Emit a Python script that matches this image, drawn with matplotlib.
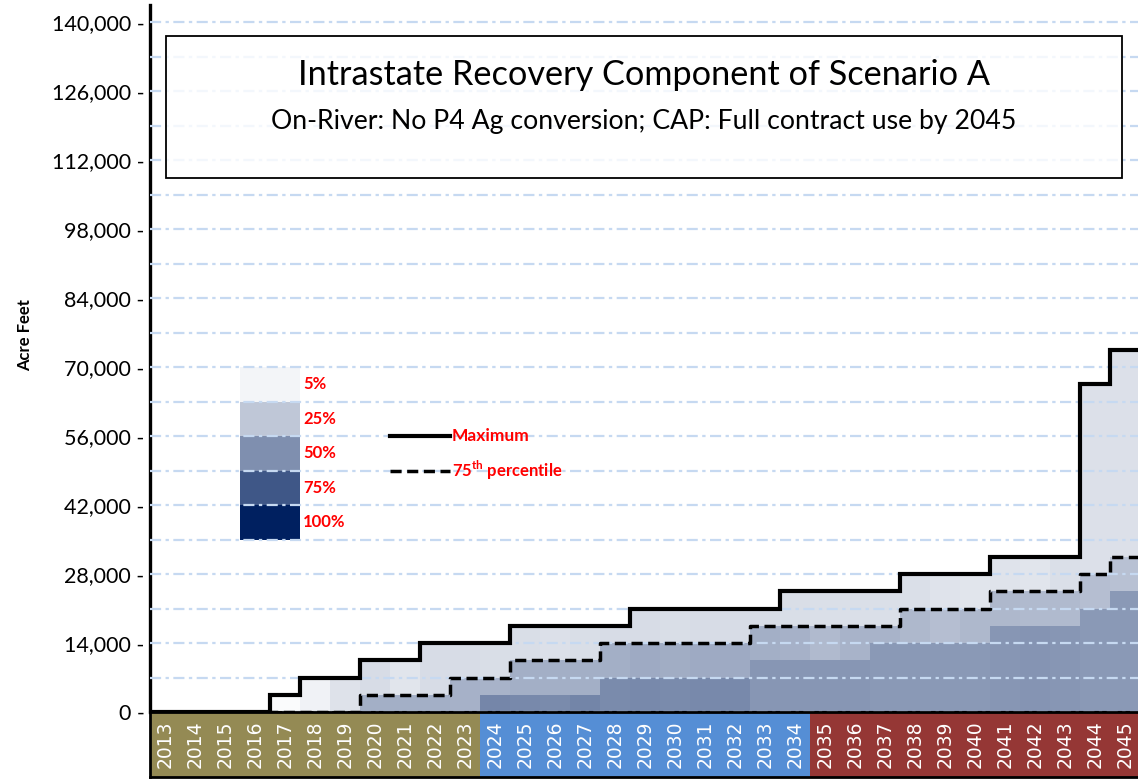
import matplotlib
matplotlib.use("Agg")
import matplotlib.pyplot as plt
import matplotlib.patches as mpatches
from matplotlib.colors import LinearSegmentedColormap
import numpy as np

plt.rcParams['font.family'] = ['Lato', 'DejaVu Sans']
plt.rcParams['mathtext.fontset'] = 'custom'
plt.rcParams['mathtext.bf'] = 'Lato:bold'
plt.rcParams['mathtext.rm'] = 'Lato'

# years shown along the bottom band
years = list(range(2013, 2046))

# step lines (acre feet)
max_af = [0, 0, 0, 0, 3500, 7000, 7000, 10500, 10500, 14000, 14000, 14000,
          17500, 17500, 17500, 17500, 21000, 21000, 21000, 21000, 21000,
          24500, 24500, 24500, 24500, 28000, 28000, 28000, 31500, 31500, 31500,
          66500, 73500]
p75_af = [0, 0, 0, 0, 0, 0, 0, 3500, 3500, 3500, 7000, 7000,
          10500, 10500, 10500, 14000, 14000, 14000, 14000, 14000,
          17500, 17500, 17500, 17500, 17500, 21000, 21000, 21000,
          24500, 24500, 24500, 28000, 31500]
# top of the darkest (lowest) tier
low_af = [0, 0, 0, 0, 0, 0, 0, 0, 0, 0, 0, 3500, 3500, 3500, 3500,
          7000, 7000, 7000, 7000, 7000, 10500, 10500, 10500, 10500,
          14000, 14000, 14000, 14000, 17500, 17500, 17500, 21000, 24500]

# shading (share of traces) for each tier
shade_low = [0, 0, 0, 0, 0, 0, 0, 0, 0, 0, 0, 0.54, 0.53, 0.52, 0.55,
             0.52, 0.53, 0.52, 0.53, 0.53, 0.47, 0.47, 0.47, 0.47,
             0.46, 0.46, 0.46, 0.46, 0.47, 0.48, 0.47, 0.46, 0.46]
shade_mid = [0, 0, 0, 0, 0, 0, 0, 0.36, 0.36, 0.36, 0.35, 0.34,
             0.36, 0.36, 0.36, 0.36, 0.38, 0.37, 0.38, 0.38,
             0.36, 0.35, 0.31, 0.34, 0.34, 0.32, 0.29, 0.32,
             0.32, 0.31, 0.31, 0.29, 0.28]
shade_top = [0, 0, 0, 0, 0.02, 0.06, 0.13, 0.16, 0.12, 0.16, 0.16, 0.15,
             0.15, 0.14, 0.15, 0.16, 0.16, 0.15, 0.16, 0.16, 0.16,
             0.15, 0.145, 0.145, 0.145, 0.145, 0.125, 0.12, 0.125, 0.12,
             0.145, 0.14, 0.14]

legend_levels = [1.0, 0.75, 0.5, 0.25, 0.05]
legend_labels = ['100%', '75%', '50%', '25%', '5%']

periods = [(2013, 2023, '#948a54'), (2024, 2034, '#558ed5'), (2035, 2045, '#953735')]

cmap = LinearSegmentedColormap.from_list('wb', ['#ffffff', '#002060'])

W, H = 1138, 781
fig = plt.figure(figsize=(W / 100, H / 100), dpi=100)

ax = fig.add_axes([150 / W, (H - 712) / H, 990 / W, (712 - 5) / H])
n = len(years)
x = np.arange(n)

low = np.array(low_af)
p75 = np.array(p75_af)
mx = np.array(max_af)

ax.bar(x, low, bottom=0, width=1, align='edge',
       color=cmap(np.array(shade_low)), linewidth=0, zorder=1)
ax.bar(x, p75 - low, bottom=low, width=1, align='edge',
       color=cmap(np.array(shade_mid)), linewidth=0, zorder=1)
ax.bar(x, mx - np.maximum(p75, low), bottom=np.maximum(p75, low), width=1, align='edge',
       color=cmap(np.array(shade_top)), linewidth=0, zorder=1)

# legend blocks drawn inside the plot
for k, (lev, lab) in enumerate(zip(legend_levels, legend_labels)):
    ax.bar(3, 7000, bottom=35000 + 7000 * k, width=2, align='edge',
           color=cmap(lev), linewidth=0, zorder=1)
    ax.text(5.1, 35000 + 7000 * k + 3500, lab, color='red', fontweight='bold',
            fontsize=12, va='center', ha='left', zorder=6)

edges = np.arange(n + 1)
ax.step(edges, list(max_af) + [max_af[-1]], where='post', color='black', lw=3.0, zorder=4,
        solid_joinstyle='miter')
ax.step(edges, list(p75_af) + [p75_af[-1]], where='post', color='black', lw=2.5,
        dashes=(3.2, 1.6), zorder=4)

ax.plot([8, 10], [56000, 56000], color='black', lw=3.0, zorder=4)
ax.plot([8, 10], [49000, 49000], color='black', lw=2.5, dashes=(3.2, 1.6), zorder=4)
ax.text(10.07, 56000, 'Maximum', color='red', fontweight='bold', fontsize=12.5,
        va='center', ha='left')
ax.text(10.07, 49000, r'75$^{\mathbf{th}}$ percentile', color='red', fontweight='bold',
        fontsize=12, va='center', ha='left')

ax.set_xlim(0, n)
ax.set_ylim(0, 143500)
major = np.arange(0, 140001, 14000)
ax.set_yticks(major)
ax.set_yticklabels([f'{v:,} -' for v in major], fontsize=15.5)
ax.set_yticks(np.arange(0, 140001, 7000), minor=True)
ax.tick_params(axis='y', which='both', length=0, pad=4)
ax.set_xticks([])
ax.set_axisbelow(False)
ax.grid(True, which='both', axis='y', color='#c6d9f1', lw=1.6,
        linestyle=(0, (5, 2, 1.5, 2)))
for s in ['top', 'right']:
    ax.spines[s].set_visible(False)
ax.spines['left'].set_linewidth(2.4)
ax.spines['bottom'].set_linewidth(1.5)

fig.text(25 / W, 1 - 335 / H, 'Acre Feet', rotation=90, fontweight='bold', fontsize=12,
         va='center', ha='center')

# title box
box = mpatches.Rectangle((166 / W, 1 - 178 / H), (1122 - 166) / W, (178 - 36) / H,
                         transform=fig.transFigure, facecolor=(1, 1, 1, 0.8),
                         edgecolor='black', lw=1.3, zorder=5)
ax.add_patch(box)
box.set_clip_on(False)
fig.text(644 / W, 1 - 75 / H, 'Intrastate Recovery Component of Scenario A',
         fontsize=24.7, ha='center', va='center')
fig.text(644 / W, 1 - 122 / H, 'On-River: No P4 Ag conversion; CAP: Full contract use by 2045',
         fontsize=19.2, ha='center', va='center')

# year band
bx = fig.add_axes([150 / W, (H - 777) / H, 990 / W, (777 - 712) / H])
bx.set_xlim(0, n)
bx.set_ylim(0, 1)
for y0, y1, c in periods:
    bx.axvspan(y0 - years[0], y1 - years[0] + 1, color=c, lw=0)
for i, yr in enumerate(years):
    bx.text(i + 0.5, 0.5, str(yr), rotation=90, color='white', fontsize=13.5,
            family='DejaVu Sans', ha='center', va='center')
bx.set_xticks([])
bx.set_yticks([])
for s in bx.spines.values():
    s.set_linewidth(2)

fig.savefig('out.png', dpi=100)
